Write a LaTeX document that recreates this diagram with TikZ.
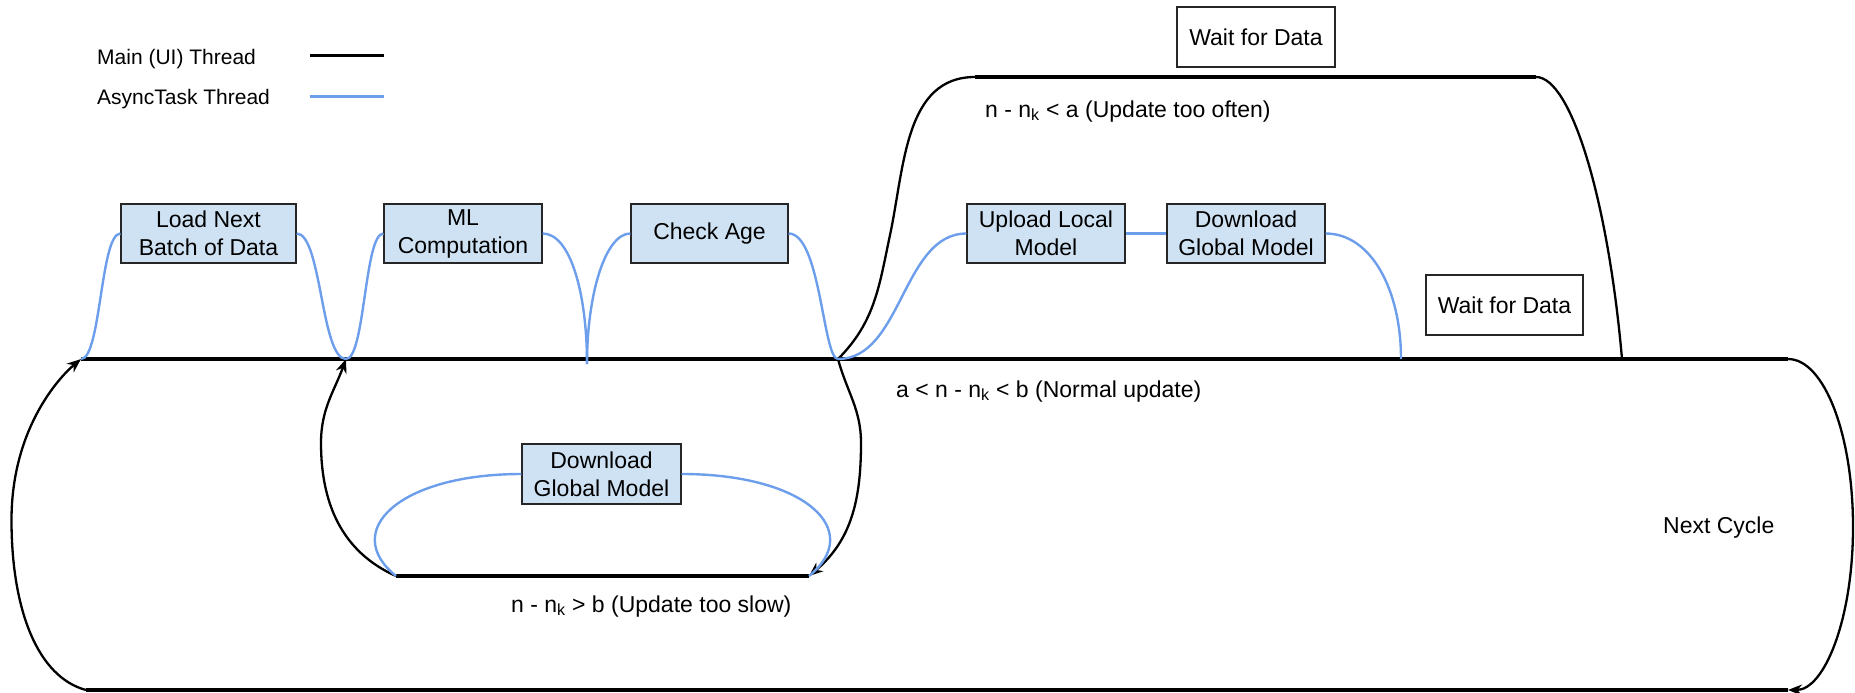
\documentclass[tikz,border=0pt]{standalone}
\usepackage{fontspec}
\setmainfont{Liberation Sans}
\usetikzlibrary{arrows.meta}
\definecolor{asyncblue}{HTML}{6D9EEB}
\definecolor{taskfill}{HTML}{CFE2F3}
\begin{document}
\begin{tikzpicture}[x=1pt,y=1pt,
  txt/.style={font=\fontsize{23}{28}\selectfont, inner sep=0pt},
  legtxt/.style={font=\fontsize{21}{25}\selectfont, inner sep=0pt},
  task/.style={draw=black!85, line width=1.2pt, fill=taskfill, minimum width=158pt, minimum height=59pt, inner sep=0pt, align=center, font=\fontsize{23}{28}\selectfont},
  waitbox/.style={draw=black!85, line width=1.1pt, fill=white, minimum width=158pt, minimum height=60pt, inner sep=0pt, font=\fontsize{23}{28}\selectfont},
  mainh/.style={line width=3.4pt, black},
  maincurve/.style={line width=2.3pt, black},
  blueline/.style={line width=2.4pt, asyncblue},
  tip/.style={-{Stealth[length=14pt,width=11pt]}},
]
\useasboundingbox (0,0) rectangle (1855,-693);

% task boxes
\node[task, minimum width=175pt] (load) at (208.5,-233.5) {Load Next\\Batch of Data};
\node[task] (ml) at (463,-233.5) {ML\\Computation};
\node[task, minimum width=157pt] (age) at (709.5,-233.5) {Check Age};
\node[task] (upload) at (1046,-233.5) {Upload Local\\Model};
\node[task] (dlg) at (1246,-233.5) {Download\\Global Model};
\node[task, minimum width=159pt, minimum height=60pt] (dlslow) at (601.5,-474) {Download\\Global Model};
\node[waitbox] (waittop) at (1256,-37) {Wait for Data};
\node[waitbox, minimum width=157pt] (waitlow) at (1504.5,-305) {Wait for Data};

% labels
\node[txt, anchor=base west] (often) at (985,-117) {n - n\textsubscript{k} < a (Update too often)};
\node[txt, anchor=base west] (normal) at (896,-397) {a < n - n\textsubscript{k} < b (Normal update)};
\node[txt, anchor=base west] (slow) at (511,-612) {n - n\textsubscript{k} > b (Update too slow)};
\node[txt, anchor=base west] (next) at (1663,-533) {Next Cycle};

% legend
\node[legtxt, anchor=base west] (lmain) at (97,-65) {Main (UI) Thread};
\node[legtxt, anchor=base west] (lasync) at (97,-104) {AsyncTask Thread};
\coordinate (lm0) at (310,-56);
\coordinate (lm1) at (384,-56);
\coordinate (la0) at (310,-96.5);
\coordinate (la1) at (384,-96.5);
\draw[line width=3pt] (lm0) -- (lm1);
\draw[blueline, line width=3pt] (la0) -- (la1);

% main-thread points
\coordinate (p0) at (81,-359);
\coordinate (p1) at (346,-359);
\coordinate (p2) at (587,-364);
\coordinate (p3) at (838,-359);
\coordinate (p4) at (1401,-359);
\coordinate (p5) at (1622,-359);
\coordinate (p6) at (1788,-359);
\coordinate (b0) at (86,-690);
\coordinate (b1) at (1788,-690);
\coordinate (i0) at (396,-576);
\coordinate (i1) at (809,-576);
\coordinate (t0) at (975,-77);
\coordinate (t1) at (1536,-77);
\coordinate (bigL) at (11.5,-520);
\coordinate (bigR) at (1853,-527);
\coordinate (innerL) at (321,-443);
\coordinate (innerR) at (861,-443);
\coordinate (topL) at (890,-235);

% main thread
\draw[mainh] (p0) -- (p6);
\draw[maincurve, tip] (p6) to[out=0,in=90,out distance=36pt,in distance=93pt] (bigR)
  to[out=-90,in=0,out distance=93pt,in distance=36pt] (b1);
\draw[mainh] (b1) -- (b0);
\draw[maincurve, tip] (b0) to[out=165,in=-90,out distance=50pt,in distance=90pt] (bigL)
  to[out=90,in=220,out distance=90pt,in distance=30pt] (p0);

\draw[maincurve, tip] (p3) to[out=-75,in=90] (innerR) to[out=-90,in=40] (i1);
\draw[mainh] (i1) -- (i0);
\draw[maincurve, tip] (i0) to[out=156,in=-90] (innerL) to[out=90,in=250] (p1);

\draw[maincurve] (p3) to[out=45,in=258] (topL) to[out=78,in=180] (t0);
\draw[mainh] (t0) -- (t1);
\draw[maincurve] (t1) to[out=0,in=95,out distance=35pt,in distance=160pt] (p5);

% async thread
\draw[blueline] (p0) to[out=0,in=180,out distance=20pt,in distance=20pt] (load.west);
\draw[blueline] (load.east) to[out=0,in=180,out distance=25pt,in distance=25pt] (p1);
\draw[blueline] (p1) to[out=0,in=180,out distance=19pt,in distance=19pt] (ml.west);
\draw[blueline] (ml.east) to[out=0,in=90,out distance=28pt,in distance=70pt] (p2);
\draw[blueline] (p2) to[out=90,in=180,out distance=70pt,in distance=25pt] (age.west);
\draw[blueline] (age.east) to[out=0,in=180,out distance=32pt,in distance=15pt] (p3);
\draw[blueline] (p3) to[out=0,in=180,out distance=64pt,in distance=64pt] (upload.west);
\draw[blueline] (upload.east) -- (dlg.west);
\draw[blueline] (dlg.east) to[out=0,in=90,out distance=45pt,in distance=70pt] (p4);
\draw[blueline] (i0) to[out=141,in=180,out distance=72pt,in distance=122pt] (dlslow.west);
\draw[blueline] (dlslow.east) to[out=0,in=39,out distance=124pt,in distance=72pt] (i1);
\end{tikzpicture}
\end{document}
